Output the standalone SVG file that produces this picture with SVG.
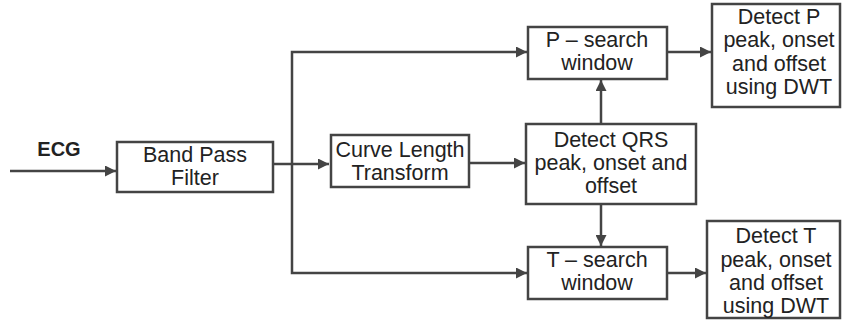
<svg xmlns="http://www.w3.org/2000/svg" width="842" height="327" viewBox="0 0 842 327">
  <style>
    .box { fill: #ffffff; stroke: #444444; stroke-width: 2.5; }
    .wire { fill: none; stroke: #444444; stroke-width: 2.5; }
    .lbl { font-family: "Liberation Sans", Arial, sans-serif; font-size: 21.5px; fill: #222222; text-anchor: middle; }
    .bold { font-weight: bold; font-size: 20px; }
  </style>
  <defs>
    <marker id="arr" viewBox="0 0 10 10" refX="10" refY="5" markerWidth="4.4" markerHeight="4.4" orient="auto" markerUnits="strokeWidth">
      <path d="M0,0 L10,5 L0,10 Z" fill="#444444"/>
    </marker>
  </defs>
  <rect width="842" height="327" fill="#ffffff"/>

  <g id="connectors">
    <path class="wire" d="M10,171 H116" marker-end="url(#arr)"/>
    <path class="wire" d="M273,164 H329" marker-end="url(#arr)"/>
    <path class="wire" d="M292,164 V52 H527" marker-end="url(#arr)"/>
    <path class="wire" d="M292,164 V273 H527" marker-end="url(#arr)"/>
    <path class="wire" d="M469,163 H525" marker-end="url(#arr)"/>
    <path class="wire" d="M601,124 V80" marker-end="url(#arr)"/>
    <path class="wire" d="M601,204 V246" marker-end="url(#arr)"/>
    <path class="wire" d="M667,52 H711" marker-end="url(#arr)"/>
    <path class="wire" d="M667,273 H706" marker-end="url(#arr)"/>
  </g>

  <g id="ecg-label">
    <text class="lbl bold" x="59" y="156">ECG</text>
  </g>

  <g id="band-pass">
    <rect class="box" x="117" y="142" width="156" height="50"/>
    <text class="lbl" x="195" y="162">Band Pass</text>
    <text class="lbl" x="195" y="185">Filter</text>
  </g>

  <g id="curve-length">
    <rect class="box" x="331" y="135" width="138" height="52"/>
    <text class="lbl" x="400" y="157">Curve Length</text>
    <text class="lbl" x="400" y="180">Transform</text>
  </g>

  <g id="p-search">
    <rect class="box" x="528" y="27" width="139" height="52"/>
    <text class="lbl" x="597" y="47">P – search</text>
    <text class="lbl" x="597" y="70">window</text>
  </g>

  <g id="detect-qrs">
    <rect class="box" x="526" y="124" width="170" height="80"/>
    <text class="lbl" x="611" y="147">Detect QRS</text>
    <text class="lbl" x="611" y="170">peak, onset and</text>
    <text class="lbl" x="611" y="193">offset</text>
  </g>

  <g id="t-search">
    <rect class="box" x="528" y="247" width="139" height="52"/>
    <text class="lbl" x="597" y="267">T – search</text>
    <text class="lbl" x="597" y="290">window</text>
  </g>

  <g id="detect-p">
    <rect class="box" x="712" y="4" width="128" height="103"/>
    <text class="lbl" x="779" y="24">Detect P</text>
    <text class="lbl" x="779" y="47">peak, onset</text>
    <text class="lbl" x="779" y="71">and offset</text>
    <text class="lbl" x="779" y="94">using DWT</text>
  </g>

  <g id="detect-t">
    <rect class="box" x="707" y="221" width="133" height="97"/>
    <text class="lbl" x="776" y="243">Detect T</text>
    <text class="lbl" x="776" y="267">peak, onset</text>
    <text class="lbl" x="776" y="290">and offset</text>
    <text class="lbl" x="776" y="313">using DWT</text>
  </g>
</svg>
